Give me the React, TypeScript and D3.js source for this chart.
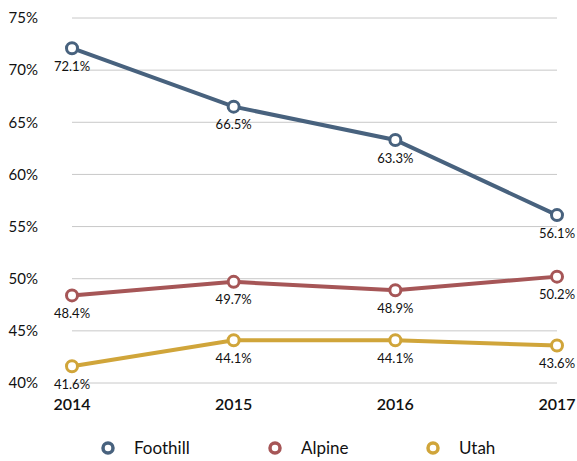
import * as d3 from "d3";
import { useEffect, useRef } from "react";

const years = ["2014", "2015", "2016", "2017"];
const foothill = [72.1, 66.5, 63.3, 56.1];
const alpine = [48.4, 49.7, 48.9, 50.2];
const utah = [41.6, 44.1, 44.1, 43.6];
const yTicks = [40, 45, 50, 55, 60, 65, 70, 75];

const seriesNames = ["Foothill", "Alpine", "Utah"];
const seriesColors = ["#48627e", "#a65657", "#d0a53a"];

const FONT = "Lato, 'Open Sans', sans-serif";

export default function App() {
  const ref = useRef<HTMLDivElement>(null);

  useEffect(() => {
    const width = 577;
    const height = 461;

    const svg = d3
      .select(ref.current)
      .append("svg")
      .attr("width", width)
      .attr("height", height)
      .style("position", "absolute")
      .style("left", "0px")
      .style("top", "0px")
      .style("font-family", FONT);

    const x = d3.scalePoint().domain(years).range([72, 557]);
    const y = d3.scaleLinear().domain([40, 75]).range([383, 18]);

    // gridlines
    svg
      .selectAll("line.grid")
      .data(yTicks)
      .enter()
      .append("line")
      .attr("x1", 72)
      .attr("x2", 557)
      .attr("y1", (d) => y(d))
      .attr("y2", (d) => y(d))
      .attr("stroke", "#c8c8c8")
      .attr("stroke-width", 1);

    // y labels
    svg
      .selectAll("text.ylab")
      .data(yTicks)
      .enter()
      .append("text")
      .attr("x", 38)
      .attr("y", (d) => y(d))
      .attr("dy", "0.35em")
      .attr("text-anchor", "end")
      .attr("font-size", 15)
      .attr("fill", "#111")
      .text((d) => d + "%");

    // x labels
    svg
      .selectAll("text.xlab")
      .data(years)
      .enter()
      .append("text")
      .attr("x", (d) => x(d)!)
      .attr("y", 404)
      .attr("dy", "0.35em")
      .attr("text-anchor", "middle")
      .attr("font-size", 16)
      .attr("font-weight", 600)
      .attr("fill", "#111")
      .text((d) => d);

    const allSeries = [foothill, alpine, utah];
    const line = d3
      .line<number>()
      .x((_, i) => x(years[i])!)
      .y((d) => y(d));

    allSeries.forEach((vals, si) => {
      const color = seriesColors[si];
      svg
        .append("path")
        .attr("d", line(vals)!)
        .attr("fill", "none")
        .attr("stroke", color)
        .attr("stroke-width", 4);

      svg
        .selectAll("circle.s" + si)
        .data(vals)
        .enter()
        .append("circle")
        .attr("cx", (_, i) => x(years[i])!)
        .attr("cy", (d) => y(d))
        .attr("r", 5.5)
        .attr("fill", "white")
        .attr("stroke", color)
        .attr("stroke-width", 3);

      svg
        .selectAll("text.v" + si)
        .data(vals)
        .enter()
        .append("text")
        .attr("x", (_, i) => x(years[i])!)
        .attr("y", (d) => y(d) + 18)
        .attr("dy", "0.35em")
        .attr("text-anchor", "middle")
        .attr("font-size", 13)
        .attr("fill", "#111")
        .text((d) => d.toFixed(1) + "%");
    });

    // legend
    const legendX = [108, 275, 433];
    seriesNames.forEach((name, i) => {
      const g = svg.append("g").attr("transform", `translate(${legendX[i]},448)`);
      g.append("circle")
        .attr("r", 5)
        .attr("fill", "white")
        .attr("stroke", seriesColors[i])
        .attr("stroke-width", 3.5);
      g.append("text")
        .attr("x", 26)
        .attr("dy", "0.35em")
        .attr("font-size", 17)
        .attr("fill", "#111")
        .text(name);
    });

    return () => {
      svg.remove();
    };
  }, []);

  return <div ref={ref} />;
}
